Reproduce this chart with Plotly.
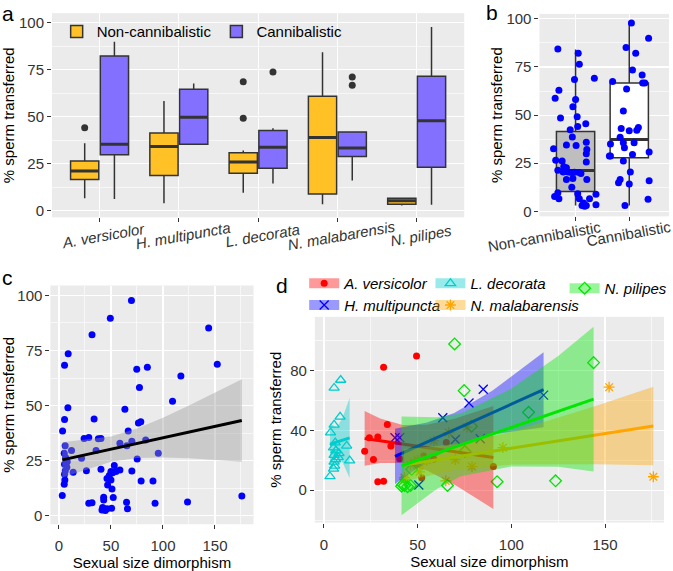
import plotly.graph_objects as go

W, H = 673, 571
FONT = "Liberation Sans, Arial, sans-serif"
PANEL_BG = "#EBEBEB"
TXT = "#333333"

# ---------------- panel a : box plots per species ----------------
a_species = ["A. versicolor", "H. multipuncta", "L. decorata", "N. malabarensis", "N. pilipes"]
a_groups = ["Non-cannibalistic", "Cannibalistic"]
a_nc_q1 = [16.6, 18.7, 20.0, 8.9, 3.5]
a_nc_median = [21.2, 34.2, 25.9, 38.9, 5.3]
a_nc_q3 = [26.4, 41.3, 30.8, 60.8, 6.7]
a_nc_lower = [6.7, 4.0, 9.6, 3.5, 2.8]
a_nc_upper = [35.9, 58.3, 32.0, 84.2, 6.7]
a_nc_outliers = [[44.1], [None], [68.5, 49.2], [None], [None]]
a_c_q1 = [29.8, 35.4, 22.6, 28.9, 23.1]
a_c_median = [35.4, 49.7, 33.8, 33.3, 47.8]
a_c_q3 = [82.3, 64.6, 42.7, 41.9, 71.5]
a_c_lower = [6.3, 35.4, 14.5, 16.1, 3.2]
a_c_upper = [89.8, 67.6, 43.8, 41.9, 97.7]
a_c_outliers = [[None], [None], [73.7], [71.1, 66.7], [None]]
a_colors = ["#FFC125", "#8470FF"]

# ---------------- panel b : pooled boxes + jittered points ----------------
b_categories = ["Non-cannibalistic", "Cannibalistic"]
b_q1 = [10.3, 27.9]
b_median = [21.2, 37.3]
b_q3 = [41.5, 66.7]
b_lower = [3.1, 3.1]
b_upper = [84.1, 97.9]
b_fills = ["#BEBEBE", "#FFFFFF"]
b_nc_values = [84.3, 82.1, 76.4, 69.1, 68.5, 62.9, 58.8, 58.1, 54.4, 48.5, 49.2, 45.5, 44.1,
               42.4, 38.6, 34.5, 34.2, 35.9, 32.1, 32.5, 29.9, 26.5, 26.2, 25.6, 23.2, 22.7,
               21.4, 20.5, 20.5, 20.2, 20.3, 20.2, 19.7, 16.6, 17.1, 16.6, 12.5, 9.7, 9.2,
               7.7, 6.5, 8.9, 6.5, 6.5, 4.3, 3.1, 3.4, 3.1, 2.7]
b_nc_jitter = [-0.33, 0.05, 0.07, 0.35, -0.02, -0.31, -0.38, 0.00, -0.05, -0.28, 0.03, 0.19, 0.04,
               -0.10, -0.06, -0.17, 0.01, 0.20, 0.21, -0.41, 0.20, -0.37, -0.25, 0.20, -0.22, -0.17,
               -0.33, -0.23, -0.14, -0.08, -0.02, 0.07, 0.10, -0.17, -0.05, 0.21, -0.07, -0.33, 0.04,
               -0.39, -0.31, 0.38, 0.07, 0.26, 0.15, 0.20, 0.38, 0.12, 0.17]
b_c_values = [97.9, 89.9, 85.1, 82.2, 73.5, 70.9, 67.5, 66.7, 66.7, 63.6, 52.1, 43.1, 41.9, 43.6,
              42.1, 38.5, 35.0, 35.6, 35.6, 33.0, 30.8, 29.6, 28.7, 28.7, 26.2, 20.5, 15.9, 16.6,
              14.9, 14.2, 6.3, 3.1]
b_c_jitter = [0.04, 0.36, -0.06, 0.12, 0.06, 0.24, -0.31, 0.25, 0.29, -0.05, -0.11, -0.15, 0.00, 0.17,
              0.14, -0.17, -0.35, -0.11, 0.09, -0.09, 0.37, 0.06, -0.37, -0.35, -0.11, 0.02, 0.37, -0.17,
              -0.20, 0.00, 0.35, -0.08]

# ---------------- panels c & d : sperm transferred vs sexual size dimorphism ----------------
d_species = ["A. versicolor", "H. multipuncta", "L. decorata", "N. malabarensis", "N. pilipes"]
d_colors = ["#FF0000", "#0000FF", "#00CDCD", "#FFA500", "#00E600"]
d_bands = ["rgba(255,0,0,0.4)", "rgba(0,0,255,0.4)", "rgba(0,205,205,0.4)",
           "rgba(255,165,0,0.4)", "rgba(0,230,0,0.4)"]
d_symbols = ["circle", "x-thin-open", "triangle-up-open", "asterisk-open", "diamond-open"]

av_x = [49.4, 31.8, 33.8, 24.2, 28.7, 65.3, 35.7, 21.7, 53.2, 26.4, 40.4, 58.6, 90.4, 52.2, 28.7, 31.8]
av_y = [89.7, 82.2, 43.9, 35.1, 35.6, 31.8, 29.6, 26.1, 22.8, 20.5, 21.1, 20.8, 15.8, 8.3, 5.7, 6.0]
hm_x = [85.0, 117.2, 77.4, 63.4, 37.9, 40.4, 83.4, 70.1, 50.6]
hm_y = [67.4, 63.5, 58.2, 48.4, 35.0, 35.1, 34.4, 33.9, 3.5]
ld_x = [8.9, 5.4, 8.6, 5.4, 3.5, 6.0, 12.1, 5.1, 6.4, 8.0, 5.4, 7.6, 6.1, 13.7, 5.4, 5.7, 5.1, 3.2]
ld_y = [73.6, 68.3, 49.0, 43.7, 38.5, 31.8, 29.6, 28.4, 26.5, 24.6, 23.4, 22.0, 20.5, 19.8, 18.9, 16.3, 14.3, 9.2]
nm_x = [152.2, 76.4, 66.6, 58.6, 95.5, 70.1, 50.0, 51.6, 54.8, 48.4, 46.2, 50.0, 79.0, 51.0, 175.8, 43.0, 43.0, 65.0]
nm_y = [68.8, 42.1, 38.5, 32.9, 28.4, 20.4, 20.1, 19.6, 20.1, 18.3, 17.0, 16.3, 15.8, 12.2, 9.0, 8.4, 7.2, 6.2]
np_x = [69.7, 143.9, 74.8, 109.2, 78.7, 75.2, 46.8, 92.4, 123.6, 42.0, 65.9, 41.4, 44.6, 43.0, 46.2]
np_y = [97.7, 85.2, 66.5, 52.0, 42.7, 25.8, 14.0, 5.7, 6.3, 3.8, 3.2, 2.7, 2.4, 3.2, 3.2]

# linear-fit lines and confidence bands
av_fit_x = [21.7, 30, 42, 55, 70, 90.4]
av_fit_y = [34.6, 33.0, 30.8, 28.4, 25.7, 21.9]
av_fit_lo = [16.3, 18.1, 18.1, 13.1, 3.5, -12.5]
av_fit_hi = [52.9, 47.9, 43.5, 43.7, 47.9, 56.3]
hm_fit_x = [37.9, 55, 69.5, 90, 117.2]
hm_fit_y = [22.6, 32.2, 40.4, 51.9, 67.1]
hm_fit_lo = [4.1, 19.2, 29.3, 37.2, 42.1]
hm_fit_hi = [41.1, 45.2, 51.5, 66.6, 92.1]
ld_fit_x = [3.2, 5.0, 6.8, 10.0, 13.7]
ld_fit_y = [30.7, 31.5, 32.2, 33.5, 35.0]
ld_fit_lo = [16.7, 20.0, 22.6, 18.3, 8.1]
ld_fit_hi = [44.7, 43.0, 41.8, 48.7, 61.7]
nm_fit_x = [42.8, 71, 100, 145, 175.8]
nm_fit_y = [16.8, 22.3, 28.0, 36.8, 42.9]
nm_fit_lo = [6.0, 13.8, 17.1, 17.3, 16.7]
nm_fit_hi = [27.6, 30.8, 38.9, 56.3, 69.1]
np_fit_x = [41.4, 60, 73, 100, 125, 143.9]
np_fit_y = [16.3, 24.7, 30.3, 41.9, 52.7, 60.8]
np_fit_lo = [-16.7, 0.7, 9.3, 15.9, 15.7, 12.5]
np_fit_hi = [49.3, 48.7, 51.3, 67.9, 89.7, 109.1]

c_fit_x = [3.2, 25, 50, 75, 100, 125, 150, 175.8]
c_fit_y = [25.4, 27.7, 30.3, 32.9, 35.5, 38.1, 40.6, 43.3]
c_fit_lo = [17.4, 20.9, 24.6, 26.2, 26.5, 26.1, 25.4, 24.6]
c_fit_hi = [33.4, 34.5, 36.0, 39.6, 44.5, 50.1, 55.8, 62.0]

d_points = [(av_x, av_y), (hm_x, hm_y), (ld_x, ld_y), (nm_x, nm_y), (np_x, np_y)]
d_fits = [(av_fit_x, av_fit_y, av_fit_lo, av_fit_hi), (hm_fit_x, hm_fit_y, hm_fit_lo, hm_fit_hi),
          (ld_fit_x, ld_fit_y, ld_fit_lo, ld_fit_hi), (nm_fit_x, nm_fit_y, nm_fit_lo, nm_fit_hi),
          (np_fit_x, np_fit_y, np_fit_lo, np_fit_hi)]
c_x = av_x + hm_x + ld_x + nm_x + np_x
c_y = av_y + hm_y + ld_y + nm_y + np_y

fig = go.Figure()

# ---- a
for name, col, q1, med, q3, lo, hi, outl in [
        (a_groups[0], a_colors[0], a_nc_q1, a_nc_median, a_nc_q3, a_nc_lower, a_nc_upper, a_nc_outliers),
        (a_groups[1], a_colors[1], a_c_q1, a_c_median, a_c_q3, a_c_lower, a_c_upper, a_c_outliers)]:
    fig.add_trace(go.Box(x=a_species, q1=q1, median=med, q3=q3, lowerfence=lo, upperfence=hi,
                         y=outl, boxpoints="all", jitter=0, pointpos=0, orientation="v",
                         name=name, fillcolor=col, line=dict(color="#333333", width=1.5),
                         whiskerwidth=0, marker=dict(color="#333333", size=7),
                         offsetgroup=name, xaxis="x", yaxis="y", legend="legend",
                         hoverinfo="skip"))
    # thicker median bar (ggplot draws the median heavier than the box outline)
    fig.add_trace(go.Box(x=a_species, q1=med, median=med, q3=med, lowerfence=med, upperfence=med,
                         boxpoints=False, orientation="v", fillcolor="rgba(0,0,0,0)",
                         line=dict(color="#333333", width=3), whiskerwidth=0,
                         offsetgroup=name, xaxis="x", yaxis="y", showlegend=False,
                         hoverinfo="skip"))

# ---- b
for i, cat in enumerate(b_categories):
    fig.add_trace(go.Box(x=[i], q1=[b_q1[i]], median=[b_median[i]], q3=[b_q3[i]],
                         lowerfence=[b_lower[i]], upperfence=[b_upper[i]], boxpoints=False,
                         orientation="v", fillcolor=b_fills[i], line=dict(color="#333333", width=1.5),
                         whiskerwidth=0, offsetgroup="b", xaxis="x2", yaxis="y2",
                         showlegend=False, hoverinfo="skip"))
    fig.add_trace(go.Box(x=[i], q1=[b_median[i]], median=[b_median[i]], q3=[b_median[i]],
                         lowerfence=[b_median[i]], upperfence=[b_median[i]], boxpoints=False,
                         orientation="v", fillcolor="rgba(0,0,0,0)",
                         line=dict(color="#333333", width=3),
                         whiskerwidth=0, offsetgroup="b", xaxis="x2", yaxis="y2",
                         showlegend=False, hoverinfo="skip"))
for i, (vals, jit) in enumerate([(b_nc_values, b_nc_jitter), (b_c_values, b_c_jitter)]):
    fig.add_trace(go.Scatter(x=[i + j for j in jit], y=vals, mode="markers",
                             marker=dict(color="#0000FF", size=7), xaxis="x2", yaxis="y2",
                             showlegend=False, hoverinfo="skip"))

# ---- c
fig.add_trace(go.Scatter(x=c_x, y=c_y, mode="markers", marker=dict(color="#0000FF", size=7),
                         xaxis="x3", yaxis="y3", showlegend=False, hoverinfo="skip"))
fig.add_trace(go.Scatter(x=c_fit_x + c_fit_x[::-1], y=c_fit_hi + c_fit_lo[::-1], fill="toself",
                         fillcolor="rgba(153,153,153,0.4)", line=dict(width=0), mode="lines",
                         xaxis="x3", yaxis="y3", showlegend=False, hoverinfo="skip"))
fig.add_trace(go.Scatter(x=c_fit_x, y=c_fit_y, mode="lines", line=dict(color="black", width=3),
                         xaxis="x3", yaxis="y3", showlegend=False, hoverinfo="skip"))

# ---- d
for k, (px, py) in enumerate(d_points):
    fig.add_trace(go.Scatter(x=px, y=py, mode="markers",
                             marker=dict(color=d_colors[k], symbol=d_symbols[k],
                                         size=7 if k == 0 else 9,
                                         line=dict(color=d_colors[k], width=0 if k == 0 else 1.3)),
                             xaxis="x4", yaxis="y4", showlegend=False, hoverinfo="skip"))
for k, (fx, fy, flo, fhi) in enumerate(d_fits):
    fig.add_trace(go.Scatter(x=fx + fx[::-1], y=fhi + flo[::-1], fill="toself", fillcolor=d_bands[k],
                             line=dict(width=0), mode="lines", xaxis="x4", yaxis="y4",
                             showlegend=False, hoverinfo="skip"))
    fig.add_trace(go.Scatter(x=fx, y=fy, mode="lines", line=dict(color=d_colors[k], width=3),
                             xaxis="x4", yaxis="y4", showlegend=False, hoverinfo="skip"))
# one small legend per entry, to reproduce the 3-column key layout
d_legend_pos = [(306, 283), (306, 305), (433, 283), (433, 305), (568, 288)]
for k, sp in enumerate(d_species):
    fig.add_trace(go.Scatter(x=[None], y=[None], mode="lines+markers", name=sp,
                             line=dict(color=d_bands[k], width=10),
                             marker=dict(color=d_colors[k], symbol=d_symbols[k],
                                         size=7 if k == 0 else 9,
                                         line=dict(color=d_colors[k], width=0 if k == 0 else 1.3)),
                             xaxis="x4", yaxis="y4", legend="legend%d" % (k + 2), hoverinfo="skip"))


def xdom(l, r):
    return [l / W, r / W]


def ydom(t, b):
    return [1 - b / H, 1 - t / H]


def ax(**kw):
    base = dict(showgrid=True, gridcolor="white", gridwidth=1.2, zeroline=False, showline=False,
                ticks="outside", ticklen=4, tickwidth=1, tickcolor=TXT,
                tickfont=dict(family=FONT, size=15, color=TXT), fixedrange=True)
    base.update(kw)
    return base


def ttl(text, standoff):
    return dict(text=text, font=dict(family=FONT, size=15, color="black"), standoff=standoff)


minor_y = dict(dtick=12.5, tick0=0, showgrid=True, gridcolor="white", gridwidth=0.6, ticks="")
minor_x = dict(dtick=25, tick0=0, showgrid=True, gridcolor="white", gridwidth=0.6, ticks="")

legend_common = dict(orientation="h", xanchor="left", yanchor="middle", bgcolor="rgba(0,0,0,0)",
                     borderwidth=0, itemclick=False, itemdoubleclick=False)

annotations = []
# panel letters
for txt, px, py in [("a", 8.5, 10), ("b", 495, 9), ("c", 7.5, 277), ("d", 284, 285)]:
    annotations.append(dict(text=txt, x=px / W, y=1 - py / H, xref="paper", yref="paper",
                            showarrow=False, xanchor="center", yanchor="middle",
                            font=dict(family=FONT, size=21, color="black")))
# panel a category labels (rotated, italic)
for sp in a_species:
    annotations.append(dict(text=sp, x=sp, xref="x", y=1 - 234 / H, yref="paper", xshift=4,
                            showarrow=False, textangle=-10, xanchor="center", yanchor="middle",
                            font=dict(family=FONT, size=15, color=TXT, style="italic")))
# panel b category labels
for i, (cat, sh, py) in enumerate(zip(b_categories, [-31, 0], [235, 232])):
    annotations.append(dict(text=cat, x=i, xref="x2", y=1 - py / H, yref="paper", xshift=sh,
                            showarrow=False, textangle=-10, xanchor="center", yanchor="middle",
                            font=dict(family=FONT, size=15, color=TXT)))

layout_legends = {}
for k, (lx, ly) in enumerate(d_legend_pos):
    layout_legends["legend%d" % (k + 2)] = dict(
        legend_common, x=lx / W, y=1 - ly / H,
        font=dict(family=FONT, size=15, color="black", style="italic"))

fig.update_layout(
    width=W, height=H, autosize=False, margin=dict(l=0, r=0, t=0, b=0),
    paper_bgcolor="white", plot_bgcolor=PANEL_BG, hovermode=False,
    font=dict(family=FONT, size=15, color=TXT),
    boxmode="group", boxgap=0.25, boxgroupgap=0.05,
    xaxis=ax(domain=xdom(52.3, 467), anchor="y", type="category", range=[-0.6, 4.6],
             categoryorder="array", categoryarray=a_species, showticklabels=False),
    yaxis=ax(domain=ydom(9.3, 216), anchor="x", range=[-3.5, 105], tickvals=[0, 25, 50, 75, 100],
             minor=minor_y, title=ttl("% sperm transferred", 0)),
    xaxis2=ax(domain=xdom(542.7, 673), anchor="y2", range=[-0.672, 1.74], tickvals=[0, 1],
              showticklabels=False),
    yaxis2=ax(domain=ydom(10, 215), anchor="x2", range=[-2.6, 102.6], tickvals=[0, 25, 50, 75, 100],
              minor=minor_y, title=ttl("% sperm transferred", 0)),
    xaxis3=ax(domain=xdom(50.7, 255), anchor="y3", range=[-8.2, 187], tickvals=[0, 50, 100, 150],
              minor=minor_x, ticklabelstandoff=4, title=ttl("Sexual size dimorphism", 3)),
    yaxis3=ax(domain=ydom(285, 526.7), anchor="x3", range=[-3.8, 104.5], tickvals=[0, 25, 50, 75, 100],
              minor=minor_y, title=ttl("% sperm transferred", 0)),
    xaxis4=ax(domain=xdom(316.7, 668), anchor="y4", range=[-4.9, 181.5], tickvals=[0, 50, 100, 150],
              minor=minor_x, ticklabelstandoff=4, title=ttl("Sexual size dimorphism", 3)),
    yaxis4=ax(domain=ydom(316.7, 525), anchor="x4", range=[-21.6, 115.8], tickvals=[0, 40, 80],
              minor=dict(dtick=20, tick0=0, showgrid=True, gridcolor="white", gridwidth=0.6, ticks=""),
              title=ttl("% sperm transferred", 4)),
    legend=dict(legend_common, x=57 / W, y=1 - 28 / H,
                font=dict(family=FONT, size=15, color="black")),
    annotations=annotations,
    **layout_legends,
)

fig.write_html("out.html", config={"displayModeBar": False, "staticPlot": True},
               post_script="document.body.style.margin='0';document.body.style.padding='0';")
